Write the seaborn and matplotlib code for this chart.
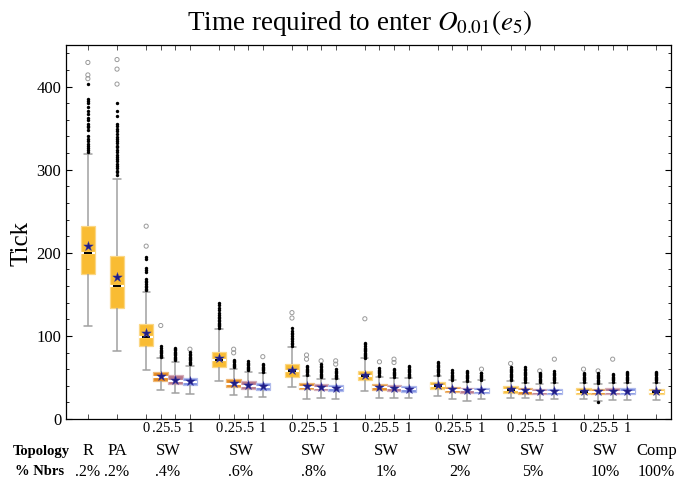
import matplotlib.colors as mcolors
import matplotlib.pyplot as plt
import matplotlib.transforms as mtransforms
import numpy as np
import pandas as pd
import seaborn as sns
from matplotlib.ticker import MultipleLocator

# one entry per group along the x axis
group_topology = ["R", "PA", "SW", "SW", "SW", "SW", "SW", "SW", "SW", "Comp"]
group_nbrs = [".2%", ".2%", ".4%", ".6%", ".8%", "1%", "2%", "5%", "10%", "100%"]
rewire_levels = ["0", ".25", ".5", "1"]

# one entry per box: R, PA, 7 x SW(0, .25, .5, 1), Comp
whisker_low = [112.5, 82,
               59, 34.4, 31.6, 30.4,
               45.7, 28.3, 26.7, 26.7,
               38.9, 24.3, 25.5, 24.3,
               33.5, 25.5, 25.5, 24.7,
               27.5, 24.3, 22.2, 23.5,
               24.7, 24.7, 22.6, 23.5,
               23.5, 21.4, 22.6, 22.6,
               22.6]
quartile_low = [174, 133.7,
                88, 45.7, 41.7, 40.5,
                62, 38.9, 35.6, 34.8,
                51, 35.6, 34.8, 33.5,
                46.5, 34.8, 33.5, 32.8,
                36.4, 32.3, 31.6, 30.7,
                31.6, 30.4, 29.5, 29.5,
                29.5, 29.5, 29.5, 29.5,
                29.5]
medians = [200, 160.4,
           99, 50, 46, 44.5,
           71, 42.5, 39.8, 38.5,
           58, 39, 37.8, 36.8,
           52, 38.3, 37, 36,
           40.3, 35.2, 34.3, 34,
           35.2, 34, 33, 33,
           33, 32.8, 32.8, 32.8,
           32.8]
quartile_high = [232, 196,
                 114.6, 56.6, 52.6, 49.8,
                 81, 47.8, 45.3, 43.7,
                 66, 43.7, 41.7, 40.5,
                 57.9, 42.5, 40.8, 39.6,
                 45, 38.9, 37.6, 37.6,
                 39.6, 37.6, 36.4, 36.4,
                 36.8, 36.4, 36.8, 36.8,
                 36.4]
whisker_high = [318.7, 289,
                153, 73, 68.8, 64,
                107.7, 60.7, 57, 55.9,
                86.3, 51.8, 48.6, 47.8,
                72.9, 51, 49.8, 49,
                51.8, 46.5, 45, 46.5,
                45.7, 43.7, 42.5, 43.7,
                43.7, 41.7, 43.7, 43.7,
                43.7]
means = [208.5, 171,
         103, 51.8, 47, 45.3,
         73, 43.3, 40.5, 39.2,
         59, 39.6, 38.4, 37.6,
         52.6, 38.9, 37.6, 36.4,
         40.8, 35.6, 34.8, 34.4,
         35.6, 34.4, 33.5, 33.5,
         33.5, 33.2, 33.2, 33.2,
         33.2]

near_outliers = [
    [321, 324, 326, 328, 330.5, 334.5, 337, 340, 348, 351, 352, 355, 360, 362,
     367, 371, 375, 380, 383, 385, 403],
    [294, 297, 299, 302, 305, 307, 310, 313, 315, 318, 321, 324, 327, 329, 332,
     335, 337, 339, 343, 346.7, 349.5, 352, 355, 364, 371, 380],
    [155, 157, 158.7, 160.4, 162, 164.4, 166, 168.4, 177, 179, 182, 192.7, 194.4],
    [74.5, 76, 77.5, 79, 80.5, 82, 83.5, 85, 87.5],
    [70.5, 72, 73.5, 75, 76.5, 78, 79.5, 81, 82.5, 84, 86],
    [66, 67.5, 69, 70.5, 72, 73.5, 75, 76.5, 78, 81],
    [110, 111.5, 113, 114.5, 116, 117.5, 119, 121, 123, 125.5, 128, 131, 134, 137, 140],
    [62, 63.5, 65, 66.5, 68, 69.5, 70.8],
    [58.5, 60, 61.5, 63, 64.5, 66, 67.5, 69.6],
    [57, 58.5, 60, 61.5, 63, 64.5, 66],
    [88, 90, 92, 94, 96, 98, 100, 102, 104, 106, 109],
    [53, 54.5, 56, 57.5, 59, 60.5, 62, 64],
    [50, 51.5, 53, 54.5, 56, 57.5, 59, 60.5, 62, 63.5, 66],
    [49, 50.5, 52, 53.5, 55, 56.5, 58, 60.7],
    [74, 75.5, 77, 78.5, 80, 81.5, 83, 84.5, 86, 88, 90, 92],
    [52, 53.5, 55, 56.5, 58, 59.5, 61],
    [51, 52.5, 54, 55.5, 57, 58.5, 60],
    [50, 51.5, 53, 54.5, 56, 57.5, 59, 60.5, 62, 64],
    [53, 54.5, 56, 57.5, 59, 60.5, 62, 63.5, 65, 67, 69],
    [47.5, 49, 50.5, 52, 53.5, 55, 56.5, 58.7],
    [46, 47.5, 49, 50.5, 52, 53.5, 55, 56.5, 57.9],
    [47.5, 49, 50.5, 52, 53.5, 55, 55.9],
    [47, 48.5, 50, 51.5, 53, 54.5, 56, 57.5, 59, 60.5, 62],
    [45, 46.5, 48, 49.5, 51, 52.5, 54, 55.5, 57, 58.5, 60, 62],
    [44, 45.5, 47, 48.5, 50, 51.5, 53, 54.5, 55.9],
    [45, 46.5, 48, 49.5, 51, 52.5, 54, 55.5, 57.9],
    [45, 46.5, 48, 49.5, 51, 52.5, 54, 55.9],
    [20.2, 43, 44.5, 46, 47.5, 49, 50.5, 52, 53.5, 55.9],
    [45, 46.5, 48, 49.5, 51, 52.5, 53.8],
    [45, 46.5, 48, 49.5, 51, 52.5, 54, 55.5, 56.6],
    [45, 46.5, 48, 49.5, 51, 52.5, 54, 55.5, 57],
]
far_outliers = [
    [409.5, 414, 429], [403, 421, 432.5],
    [208, 232], [112.5], [], [84],
    [], [79.6, 84], [], [75],
    [121.5, 128], [72, 77], [70], [66, 70],
    [120.6], [68.8], [68, 72], [],
    [], [], [], [60],
    [66.8], [], [57.9], [72],
    [60], [57.9], [72], [],
    [],
]

box_colors = {"0": "#F9BC33", ".25": "#E5891D", ".5": "#B77689", "1": "#7B8DE0"}


def box_layout():
    positions, levels, group_x = [], [], []
    cursor = 0
    for topo in group_topology:
        if topo == "SW":
            xs = [cursor + i for i in range(len(rewire_levels))]
            levels += rewire_levels
            cursor += len(rewire_levels) + 1
        else:
            xs = [cursor]
            levels.append(None)
            cursor += 2
        positions += xs
        group_x.append(float(np.mean(xs)))
    return positions, levels, group_x


def lighten(color, amount):
    rgb = np.array(mcolors.to_rgb(color))
    return tuple(rgb + (1 - rgb) * amount)


def main() -> None:
    sns.set_style("ticks")
    plt.rcParams["font.family"] = ["Liberation Serif", "DejaVu Serif"]
    plt.rcParams["mathtext.fontset"] = "stix"
    for key in ("text.color", "axes.labelcolor", "xtick.labelcolor", "ytick.labelcolor"):
        plt.rcParams[key] = "black"

    positions, levels, group_x = box_layout()
    hue_keys = [lvl if lvl is not None else "0" for lvl in levels]

    rows = []
    for i, pos in enumerate(positions):
        for v in (whisker_low[i], quartile_low[i], medians[i], quartile_high[i], whisker_high[i]):
            rows.append({"pos": pos, "value": v, "rewire": hue_keys[i]})
    box_df = pd.DataFrame(rows)

    near_df = pd.DataFrame(
        [{"pos": p, "value": v} for p, vals in zip(positions, near_outliers) for v in vals]
    )
    far_df = pd.DataFrame(
        [{"pos": p, "value": v} for p, vals in zip(positions, far_outliers) for v in vals]
    )

    fig = plt.figure(figsize=(6.77, 4.83), dpi=100)
    ax = fig.add_axes([0.0975, 0.1325, 0.8936, 0.7743])

    sns.boxplot(
        data=box_df, x="pos", y="value", hue="rewire", palette=box_colors,
        native_scale=True, dodge=False, width=1.0, whis=(0, 100),
        saturation=1, showfliers=False, linecolor="#a0a0a0", linewidth=1.1,
        medianprops=dict(color="white", linewidth=1.6),
        legend=False, ax=ax,
    )
    for patch in ax.patches:
        fc = patch.get_facecolor()
        patch.set_edgecolor(lighten(fc[:3], 0.4))
        patch.set_linewidth(0.9)

    sns.scatterplot(data=far_df, x="pos", y="value", marker="o", s=9,
                    facecolor="none", edgecolor="#9a9a9a", linewidth=0.7,
                    ax=ax, zorder=3)
    sns.scatterplot(data=near_df, x="pos", y="value", marker="o", s=6,
                    color="black", linewidth=0, ax=ax, zorder=3)

    # short dark median mark on the golden boxes, as in the original
    gold = [i for i, k in enumerate(levels) if k in (None, "0")]
    ax.scatter([positions[i] for i in gold], [medians[i] for i in gold],
               marker="_", s=28, color="black", linewidths=1.4, zorder=4)

    sns.scatterplot(x=positions, y=means, marker="*", s=52, color="#1f1d85",
                    edgecolor="#3a3aa8", linewidth=0.3, ax=ax, zorder=5)

    ax.set_xlim(-1.5, 40)
    ax.set_ylim(0, 450)
    ax.set_xticks(positions)
    ax.set_xticklabels([lvl if lvl is not None else "" for lvl in levels], fontsize=10.5)
    ax.set_yticks(range(0, 401, 100))
    ax.yaxis.set_minor_locator(MultipleLocator(20))
    ax.tick_params(axis="y", which="both", direction="in", left=True, right=True,
                   labelsize=12, color="black", labelcolor="black")
    ax.tick_params(axis="y", which="major", length=4.5, width=0.8)
    ax.tick_params(axis="y", which="minor", length=2.5, width=0.6)
    ax.tick_params(axis="x", direction="in", top=True, length=3.5, width=0.6,
                   pad=2, color="#333333", labelcolor="black")
    for side in ("left", "right", "top", "bottom"):
        ax.spines[side].set_linewidth(0.9)
        ax.spines[side].set_color("black")

    ax.set_xlabel("")
    ax.set_ylabel("Tick", fontsize=18, color="black")
    ax.yaxis.set_label_coords(-0.056, 0.47)
    ax.set_title(r"Time required to enter $O_{0.01}(e_5)$", fontsize=19.5,
                 pad=10.5, x=0.486, color="black")

    trans = mtransforms.blended_transform_factory(ax.transData, ax.transAxes)
    ax.text(-0.04, -0.0856, "Topology", transform=ax.transAxes, ha="center",
            va="center", fontsize=10.5, fontweight="bold")
    ax.text(-0.043, -0.1417, "% Nbrs", transform=ax.transAxes, ha="center",
            va="center", fontsize=10.5, fontweight="bold")
    for gx, topo, nb in zip(group_x, group_topology, group_nbrs):
        ax.text(gx, -0.0856, topo, transform=trans, ha="center", va="center",
                fontsize=12, clip_on=False)
        ax.text(gx, -0.1417, nb, transform=trans, ha="center", va="center",
                fontsize=11.5, clip_on=False)

    fig.savefig("out.png", dpi=100)
    plt.close(fig)


if __name__ == "__main__":
    main()
